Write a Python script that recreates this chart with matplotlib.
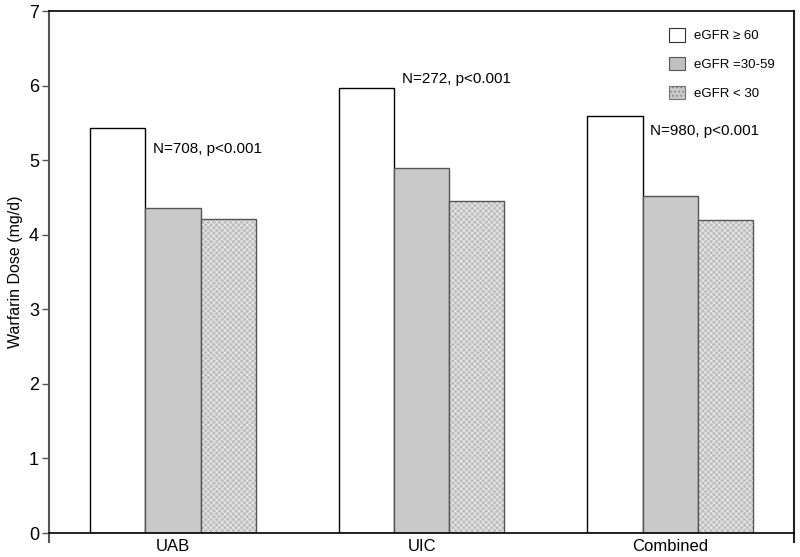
import matplotlib
matplotlib.use("Agg")
import matplotlib.pyplot as plt
import numpy as np
from matplotlib.patches import Patch

plt.rcParams['font.family'] = ['Liberation Sans', 'DejaVu Sans']
plt.rcParams['hatch.linewidth'] = 0.5

categories = ["UAB", "UIC", "Combined"]
series_labels = ["eGFR \u2265 60", "eGFR =30-59", "eGFR < 30"]
egfr_ge60 = [5.43, 5.97, 5.59]
egfr_30_59 = [4.36, 4.90, 4.52]
egfr_lt30 = [4.21, 4.46, 4.20]
annotations = ["N=708, p<0.001", "N=272, p<0.001", "N=980, p<0.001"]

fig = plt.figure(figsize=(8, 5.57), dpi=100)
ax = fig.add_axes([0.061, 0.043, 0.932, 0.937])

x = np.arange(len(categories))
w = 0.222
ax.bar(x - w, egfr_ge60, w, color='white', edgecolor='black', linewidth=1.0)
ax.bar(x, egfr_30_59, w, color='#c9c9c9', edgecolor='#555555', linewidth=1.0)
ax.bar(x + w, egfr_lt30, w, color='#bfbfbf', edgecolor='#f0f0f0', linewidth=0, hatch='xxxxxx')
ax.bar(x + w, egfr_lt30, w, color='none', edgecolor='#555555', linewidth=1.0)

for i, t in enumerate(annotations):
    yoff = [-0.28, 0.12, -0.20][i]
    ax.text(x[i] - 0.08, egfr_ge60[i] + yoff, t, fontsize=11, va='center', ha='left')

ax.set_xlim(-0.5, 2.5)
ax.set_ylim(0, 7)
ax.set_xticks(x)
ax.set_xticklabels(categories, fontsize=12)
ax.tick_params(axis='x', length=0, pad=4)
ax.set_yticks(range(0, 8))
ax.tick_params(axis='y', length=5, width=1, labelsize=13, pad=2, color='#555555')
ax.set_ylabel("Warfarin Dose (mg/d)", fontsize=11.5, labelpad=4)

for s in ['left', 'right']:
    ax.spines[s].set_color('#555555')
    ax.spines[s].set_linewidth(1.5)
    ax.spines[s].set_bounds(-0.12, 7)
ax.spines['bottom'].set_linewidth(1.2)
ax.spines['top'].set_linewidth(1.2)
ax.spines['right'].set_color('#222222')

handles = [
    Patch(facecolor='white', edgecolor='#333333', linewidth=0.8),
    Patch(facecolor='#c0c0c0', edgecolor='#555555', linewidth=0.8),
    Patch(facecolor='#c8c8c8', edgecolor='#777777', linewidth=0.8, hatch='....'),
]
ax.legend(handles, series_labels, loc='upper right', bbox_to_anchor=(0.99, 0.99),
          frameon=False, fontsize=9.5, handlelength=1.2, handleheight=1.2,
          labelspacing=1.1, handletextpad=0.7)

fig.savefig("out.png", dpi=100)
